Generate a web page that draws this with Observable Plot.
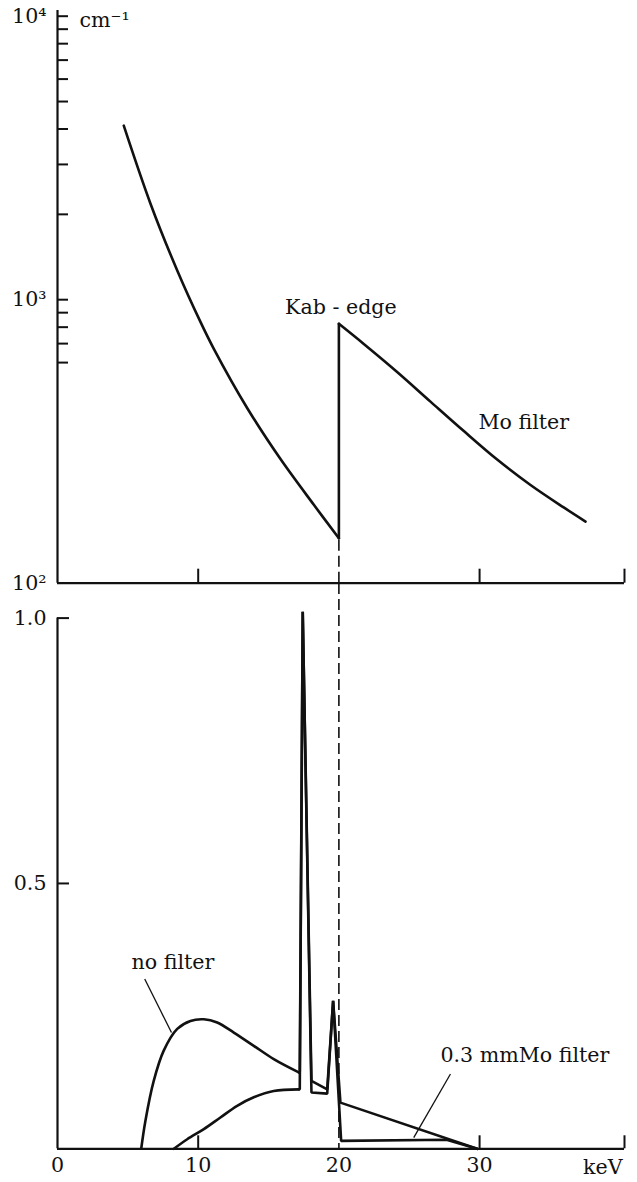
<!DOCTYPE html>
<html>
<head>
<meta charset="utf-8">
<script src="https://cdn.jsdelivr.net/npm/d3@7"></script>
<script src="https://cdn.jsdelivr.net/npm/@observablehq/plot@0.6"></script>
<style>
  html, body { margin: 0; padding: 0; background: #fff; }
  #chart { width: 637px; height: 1182px; overflow: hidden; }
  #chart svg { display: block; }
</style>
</head>
<body>
<div id="chart"></div>
<script>
// ---------------- data ----------------
const edgeEnergy = 20.0; // Mo K absorption edge, keV

// Top panel: attenuation coefficient of Mo (cm^-1)
const muBelowEnergy = [4.71, 6.61, 8.51, 10.16, 11.11, 13.48, 15.85, 18.22, 20.0];
const muBelowValue  = [4110, 2181, 1268, 835, 671, 415, 274, 189, 144];
const muAboveEnergy = [20.0, 21.77, 24.14, 26.51, 28.88, 31.25, 33.62, 35.98, 37.53];
const muAboveValue  = [822, 698, 556, 437, 344, 273, 222, 185, 165];

// Bottom panel: relative spectra
const noFilterSmoothE = [5.95, 6.25, 6.84, 7.55, 8.51, 9.45, 10.40, 11.35, 12.53, 13.95, 15.37, 17.15];
const noFilterSmoothI = [0, 0.053, 0.128, 0.185, 0.226, 0.241, 0.244, 0.238, 0.219, 0.194, 0.169, 0.144];
const noFilterLineE   = [17.15, 17.22, 17.43, 18.05, 19.17, 19.59, 20.11, 29.83];
const noFilterLineI   = [0.144, 0.145, 1.012, 0.128, 0.112, 0.279, 0.087, 0];

const moFilterSmoothE = [8.27, 9.22, 10.40, 11.58, 12.77, 13.95, 15.37, 17.15];
const moFilterSmoothI = [0, 0.018, 0.037, 0.059, 0.081, 0.097, 0.109, 0.112];
const moFilterLineE   = [17.15, 17.22, 17.43, 18.05, 19.17, 19.59, 20.16, 27.65, 29.83];
const moFilterLineI   = [0.112, 0.112, 1.012, 0.106, 0.104, 0.279, 0.015, 0.017, 0];

// ticks
const topMajorTicks = [100, 1000, 10000];
const topMinorTicks = [600, 700, 800, 900, 2000, 3000, 4000, 5000, 6000, 7000, 8000, 9000];
const xTickMarks    = [10, 30];
const xTickLabels   = [0, 10, 20, 30];
const bottomYTicks  = [0.5, 1.0];

// labels
const supDigits = {"2": "\u00B2", "3": "\u00B3", "4": "\u2074"};
const unitLabel = "cm\u207B\u00B9";
const edgeLabel = "Kab - edge";
const moLabel = "Mo filter";
const noFilterLabel = "no filter";
const filterLabel = "0.3 mmMo filter";
const energyUnit = "keV";

// ---------------- layout ----------------
const W = 637;
const mL = 57, mR = 13;
const frameW = W - mL - mR;
const xDomain = [0, 40.3];
const ink = "#111";
const style = {fontFamily: "'DejaVu Serif', serif", fontSize: "20.6px", background: "transparent", overflow: "visible", color: ink};

const zip = (xs, ys) => xs.map((x, i) => ({e: x, v: ys[i]}));

// ---------------- top panel ----------------
const topH = 582.7, topMT = 10;
const topFrameH = topH - topMT;
const topYDomain = [100, 10000];
const below = zip(muBelowEnergy, muBelowValue);
const above = zip(muAboveEnergy, muAboveValue);
const edgeSeg = [below[below.length - 1], above[0]];

const topPlot = Plot.plot({
  width: W, height: topH,
  marginLeft: mL, marginRight: mR, marginTop: topMT, marginBottom: 0,
  style,
  x: {domain: xDomain, axis: null},
  y: {type: "log", domain: topYDomain, range: [582.7, 15.7], label: null},
  marks: [
    Plot.ruleX([edgeEnergy], {y1: topYDomain[0], y2: below[below.length - 1].v, strokeWidth: 1.6, strokeDasharray: "11,5"}),
    Plot.ruleX([xDomain[0]], {strokeWidth: 2.2}),
    Plot.ruleY([topYDomain[0]], {strokeWidth: 2.2}),
    Plot.ruleY([...topMajorTicks.slice(1), ...topMinorTicks], {strokeWidth: 2, insetRight: frameW - 11}),
    Plot.ruleX([...xTickMarks, xDomain[1]], {strokeWidth: 2, insetTop: topFrameH - 14}),
    Plot.axisY({ticks: topMajorTicks, tickSize: 0, tickPadding: 11, label: null,
      tickFormat: d => "10" + supDigits[String(Math.round(Math.log10(d)))]}),
    Plot.line(below, {x: "e", y: "v", curve: "catmull-rom", strokeWidth: 2.6}),
    Plot.line(edgeSeg, {x: "e", y: "v", strokeWidth: 2.6}),
    Plot.line(above, {x: "e", y: "v", curve: "catmull-rom", strokeWidth: 2.6}),
    Plot.text([unitLabel], {frameAnchor: "top-left", dx: 22, dy: 17, textAnchor: "start", lineAnchor: "bottom"}),
    Plot.text([edgeLabel], {x: edgeEnergy, y: muAboveValue[0], dx: 2, dy: -10, textAnchor: "middle", lineAnchor: "bottom"}),
    Plot.text([moLabel], {x: 29.92, y: 350, textAnchor: "start", lineAnchor: "bottom"})
  ]
});

// ---------------- bottom panel ----------------
const botH = 1182 - topH;
const botMB = 34;
const botFrameH = botH - botMB;
const botYDomain = [0, 1];

const botPlot = Plot.plot({
  width: W, height: botH,
  marginLeft: mL, marginRight: mR, marginTop: 0, marginBottom: botMB,
  style,
  x: {domain: xDomain, label: null},
  y: {domain: botYDomain, range: [565.3, 34.6], label: null},
  marks: [
    Plot.ruleX([edgeEnergy], {strokeWidth: 1.6, strokeDasharray: "11,5"}),
    Plot.ruleX([xDomain[0]], {y1: botYDomain[0], y2: botYDomain[1], strokeWidth: 2.2}),
    Plot.ruleY([botYDomain[0]], {strokeWidth: 2.2}),
    Plot.ruleY(bottomYTicks, {strokeWidth: 2, insetRight: frameW - 12}),
    Plot.ruleX([...xTickMarks, xDomain[1]], {strokeWidth: 2, insetTop: botFrameH - 13}),
    Plot.axisY({ticks: bottomYTicks, tickSize: 0, tickPadding: 11, label: null, tickFormat: d => d.toFixed(1)}),
    Plot.axisX({ticks: xTickLabels, tickSize: 0, tickPadding: 9, label: null, tickFormat: d => String(d)}),
    Plot.text([energyUnit], {frameAnchor: "bottom-right", dx: -2, dy: 25, textAnchor: "end", lineAnchor: "bottom"}),
    Plot.line(zip(noFilterSmoothE, noFilterSmoothI), {x: "e", y: "v", curve: "catmull-rom", strokeWidth: 2.6}),
    Plot.line(zip(noFilterLineE, noFilterLineI), {x: "e", y: "v", strokeWidth: 2.6, strokeLinejoin: "miter"}),
    Plot.line(zip(moFilterSmoothE, moFilterSmoothI), {x: "e", y: "v", curve: "catmull-rom", strokeWidth: 2.6}),
    Plot.line(zip(moFilterLineE, moFilterLineI), {x: "e", y: "v", strokeWidth: 2.6, strokeLinejoin: "miter"}),
    Plot.text([noFilterLabel], {x: 5.26, y: 0.339, textAnchor: "start", lineAnchor: "bottom"}),
    Plot.link([{x1: 6.20, y1: 0.320, x2: 8.10, y2: 0.219}], {x1: "x1", y1: "y1", x2: "x2", y2: "y2", strokeWidth: 1.3}),
    Plot.text([filterLabel], {x: 27.22, y: 0.163, textAnchor: "start", lineAnchor: "bottom"}),
    Plot.link([{x1: 27.93, y1: 0.141, x2: 25.32, y2: 0.021}], {x1: "x1", y1: "y1", x2: "x2", y2: "y2", strokeWidth: 1.3})
  ]
});

const root = document.getElementById("chart");
root.appendChild(topPlot);
root.appendChild(botPlot);
</script>
</body>
</html>
